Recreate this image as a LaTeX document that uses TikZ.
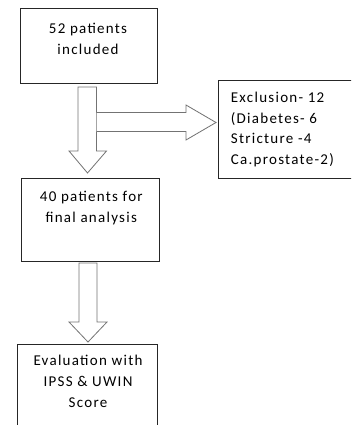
\documentclass[tikz,border=0pt]{standalone}
\usepackage{fontspec}
\setmainfont{Carlito}[LetterSpace=8.5]

\tikzset{
  box/.style={draw=black!85, line width=0.9pt, rectangle, inner sep=0pt},
  txt/.style={anchor=base, align=center, inner sep=0pt, font=\fontsize{15}{21}\selectfont},
  blockarrow/.style={draw=black!55, line width=0.8pt, fill=white, line join=miter}
}

\begin{document}
\begin{tikzpicture}[x=1pt, y=-1pt]
\useasboundingbox (0,0) rectangle (351,425);
\clip (0,0) rectangle (351,425);

% boxes
\node[box, minimum width=137pt, minimum height=75pt] (incl) at (88.5,45.5) {};
\node[box, minimum width=138pt, minimum height=83pt] (final) at (90,219.5) {};
\node[box, minimum width=140pt, minimum height=98pt] (excl) at (288,129) {};
\node[box, minimum width=140pt, minimum height=100pt] (eval) at (87,394) {};

% texts (base = last line)
\node[txt] (inclt) at (88,54.5) {52 patients\\included};
\node[txt] (finalt) at (91.3,222.5) {40 patients for\\final analysis};
\node[txt, align=left, anchor=base west, font=\fontsize{15}{20.5}\selectfont] (exclt) at (230.7,164) {Exclusion- 12\\(Diabetes- 6\\Stricture -4\\Ca.prostate-2)};
\node[txt] (evalt) at (88,407) {Evaluation with\\IPSS \& UWIN\\Score};

% arrows
\draw[blockarrow] (78,87) -- (96.5,87) -- (96.5,151) -- (106.5,151) -- (87.5,173)
  -- (69,151) -- (78,151) -- cycle;
\draw[blockarrow] (96.5,112.5) -- (186,112.5) -- (186,105) -- (216,122.5)
  -- (186,140) -- (186,131.5) -- (96.5,131.5);
\draw[blockarrow] (79,263) -- (97,263) -- (97,322) -- (107,322) -- (88,342)
  -- (69,322) -- (79,322) -- cycle;
\end{tikzpicture}
\end{document}
